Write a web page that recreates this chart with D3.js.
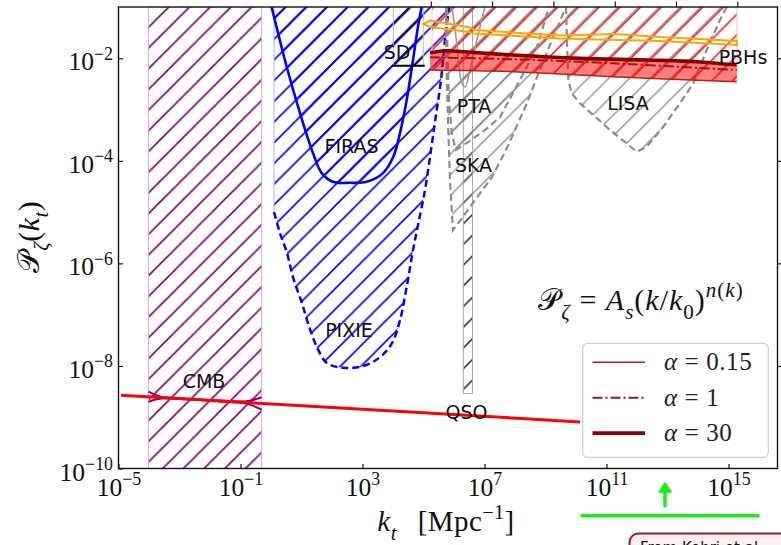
<!DOCTYPE html>
<html>
<head>
<meta charset="utf-8">
<script src="https://cdn.jsdelivr.net/npm/d3@7"></script>
<style>
  body { margin: 0; background: #fff; }
  svg { display: block; }
</style>
</head>
<body>
<svg id="chart" width="781" height="545"></svg>
<script>
// ---- Data (log10 k [Mpc^-1], log10 P_zeta) ----
const cmbLogK = [-4.02, -0.305];
const firasLog = [[0.02,-1.0],[0.515,-2.165],[0.951,-3.068],[1.377,-3.849],[1.662,-4.239],[2.033,-4.409],
  [2.59,-4.428],[3.138,-4.409],[3.672,-4.239],[4.01,-3.921],[4.23,-3.459],[4.449,-2.815],[4.656,-2.034],
  [4.82,-1.384],[4.941,-1.0]];
const pixieEdgeLog = [[0.1,-1.0],[0.1,-5.0]];
const pixieLog = [[0.1,-5.0],[0.295,-5.41],[0.525,-5.8],[0.721,-6.268],[1.016,-6.776],[1.213,-7.166],
  [1.508,-7.634],[1.836,-7.946],[2.361,-8.034],[3.016,-8.005],[3.574,-7.829],[3.967,-7.556],[4.23,-7.107],
  [4.459,-6.424],[4.656,-5.741],[4.82,-5.254],[5.049,-4.571],[5.246,-3.79],[5.41,-3.107],[5.574,-2.424],
  [5.705,-1.644],[5.836,-1.0]];
const sdLogK = [4.01, 4.993];
const sdLogP = [-2.146, -1.0];
const qsoLogK = [6.305, 6.607];
const qsoLogP = [-8.538, -1.0];
const skaLog = [[5.74,-1],[5.754,-2.034],[5.803,-3.205],[5.869,-4.376],[5.967,-5.351],[6.262,-5.117],
  [6.689,-4.766],[7.246,-4.317],[7.672,-3.829],[8.0,-3.4],[8.393,-2.873],[8.721,-2.366],[9.213,-1.644],[9.672,-1]];
const ptaLog = [[5.77,-1],[5.787,-2.034],[5.836,-2.815],[5.934,-3.498],[6.066,-3.79],[6.459,-3.634],
  [7.016,-3.4],[7.508,-3.146],[8.164,-2.424],[8.721,-1.78],[9.115,-1]];
const ptaNowLog = [[5.934,-1],[6.098,-1.741],[6.23,-2.424],[6.361,-2.561],[6.525,-2.229],[6.787,-1.546],[7.016,-1]];
const lisaLog = [[9.672,-1],[9.705,-1.644],[9.748,-2.424],[9.859,-2.684],[10.131,-2.879],[10.567,-3.107],
  [11.115,-3.4],[11.662,-3.66],[11.99,-3.823],[12.318,-3.726],[12.862,-3.336],[13.41,-2.879],[13.846,-2.489],
  [14.285,-1.839],[14.721,-1.254],[14.941,-1]];
const pbhHatchLog = [[5.279,-1],[15.279,-1],[15.279,-2.458],[11.223,-2.36],[7.944,-2.262],[5.279,-2.233]];
const orangeUpperLog = [[4.984,-1.332],[5.213,-1.263],[6.525,-1.4],[6.656,-1.449],[9.475,-1.556],
  [11.279,-1.527],[12.754,-1.585],[15.279,-1.663]];
const orangeLowerLog = [[15.279,-1.741],[12.754,-1.663],[9.475,-1.615],[6.656,-1.517],[6.525,-1.488],
  [5.213,-1.39],[4.984,-1.332]];
const alpha30Log = [[5.213,-1.892],[5.761,-1.853],[6.305,-1.872],[7.944,-1.937],[10.131,-2.001],
  [12.318,-2.034],[13.957,-2.067],[15.269,-2.132]];
const alpha1Log = [[5.213,-1.981],[7.944,-2.02],[11.223,-2.099],[15.269,-2.229]];
const alpha015Log = [[5.213,-2.229],[7.944,-2.262],[11.223,-2.36],[15.269,-2.458]];
const powerLawLog = [[-4.918,-8.571],[10.131,-9.092]];
const cmbUpperLog = [[-4.02,-8.50],[-3.6,-8.60],[-3.0,-8.63],[-1.5,-8.68],[-0.8,-8.69],[-0.305,-8.61]];
const cmbLowerLog = [[-4.02,-8.70],[-3.6,-8.635],[-3.0,-8.645],[-1.5,-8.70],[-0.8,-8.735],[-0.305,-8.85]];

const xTickExp = [-5, -1, 3, 7, 11, 15];
const yTickExp = [-10, -8, -6, -4, -2];
const yRightTickExp = [-8, -6, -4, -2];
const topTickLogK = [5.24, 7.25, 9.26, 11.27, 13.28, 15.29];

const regionLabels = [
  {t:"CMB", at:[-2.197,-8.298]}, {t:"FIRAS", at:[2.639,-3.702]}, {t:"PIXIE", at:[2.557,-7.302]},
  {t:"SD", at:[4.131,-1.868]}, {t:"PTA", at:[6.656,-2.922]}, {t:"SKA", at:[6.639,-4.073]},
  {t:"LISA", at:[11.705,-2.863]}, {t:"QSO", at:[6.41,-8.893]}, {t:"PBHs", at:[15.475,-1.976]}
];
const legendItems = [
  {label:"0.15", key:"a015"}, {label:"1", key:"a1"}, {label:"30", key:"a30"}
];

// ---- Layout ----
const svg = d3.select("#chart");
const L = 118.5, R = 777.5, T = 7, B = 468.5;
const x = d3.scaleLog().domain([1e-5, 10 ** 16.607]).range([L, R]);
const y = d3.scaleLog().domain([1e-10, 1e-1]).range([B, T]);
const px = d => [x(10 ** d[0]), y(10 ** d[1])];

const serif = "'Liberation Serif', 'DejaVu Serif', serif";
const sans = "'DejaVu Sans', sans-serif";

const lineStyles = {
  a015: {stroke:"#b22222", width:1.5, dash:null},
  a1:   {stroke:"#a01515", width:2, dash:"10,3,2,3"},
  a30:  {stroke:"#8b0000", width:3.6, dash:null}
};

// ---- Hatch patterns ----
const defs = svg.append("defs");
const H = 20.7;
function hatch(id, color, lw, phase) {
  const p = defs.append("pattern").attr("id", id).attr("patternUnits", "userSpaceOnUse")
    .attr("width", H).attr("height", H).attr("x", phase).attr("y", 0);
  p.append("path")
    .attr("d", `M0,${H}L${H},0M-2,2L2,-2M${H-2},${H+2}L${H+2},${H-2}`)
    .attr("stroke", color).attr("stroke-width", lw).attr("fill", "none");
}
hatch("hPurple", "#800080", 1.6, 10.2);
hatch("hBlue", "#0000ff", 1.6, 2.8);
hatch("hBlack", "#111", 1.4, 4);
hatch("hGray", "#8a8a8a", 1.3, 4);
hatch("hRed", "#ff0000", 1.4, 6);

defs.append("clipPath").attr("id", "plotClip")
  .append("rect").attr("x", L).attr("y", T).attr("width", R - L).attr("height", B - T);

const plot = svg.append("g").attr("clip-path", "url(#plotClip)");
const smooth = d3.line().x(d => px(d)[0]).y(d => px(d)[1]).curve(d3.curveCatmullRom.alpha(0.5));
const straight = d3.line().x(d => px(d)[0]).y(d => px(d)[1]);

// CMB band
const cx0 = x(10 ** cmbLogK[0]), cx1 = x(10 ** cmbLogK[1]);
plot.append("rect").attr("x", cx0).attr("y", T).attr("width", cx1 - cx0).attr("height", B - T)
  .attr("fill", "url(#hPurple)").attr("stroke", "#d9a6e6").attr("stroke-width", 1);

// PIXIE and FIRAS regions
plot.append("path").attr("d", straight([...pixieEdgeLog]) + smooth(pixieLog).replace(/^M/, "L") + "Z")
  .attr("fill", "url(#hBlue)");
plot.append("path").attr("d", smooth(firasLog) + "Z").attr("fill", "url(#hBlue)");

// SD box
const sx0 = x(10 ** sdLogK[0]), sx1 = x(10 ** sdLogK[1]);
const sy0 = y(10 ** sdLogP[1]), sy1 = y(10 ** sdLogP[0]);
plot.append("rect").attr("x", sx0).attr("y", sy0).attr("width", sx1 - sx0).attr("height", sy1 - sy0)
  .attr("fill", "url(#hBlack)").attr("stroke", "#bbb").attr("stroke-width", 1);

// QSO strip
const qx0 = x(10 ** qsoLogK[0]), qx1 = x(10 ** qsoLogK[1]);
const qy0 = y(10 ** qsoLogP[1]), qy1 = y(10 ** qsoLogP[0]);
plot.append("rect").attr("x", qx0).attr("y", qy0).attr("width", qx1 - qx0).attr("height", qy1 - qy0)
  .attr("fill", "url(#hBlack)").attr("stroke", "#aaa").attr("stroke-width", 1);

// GW sensitivity regions
[skaLog, ptaLog, lisaLog].forEach(r => {
  plot.append("path").attr("d", straight(r) + "Z").attr("fill", "url(#hGray)");
});

// PBH excluded region
plot.append("path").attr("d", straight(pbhHatchLog) + "Z").attr("fill", "url(#hRed)");
[pbhHatchLog[0][0], pbhHatchLog[1][0]].forEach(lk => {
  plot.append("line").attr("x1", x(10 ** lk)).attr("x2", x(10 ** lk)).attr("y1", T).attr("y2", y(10 ** -2.3))
    .attr("stroke", "#ffc0b0").attr("stroke-width", 1);
});

// Outlines
plot.append("path").attr("d", straight(pixieEdgeLog)).attr("fill", "none")
  .attr("stroke", "#aab4ff").attr("stroke-width", 1);
plot.append("path").attr("d", smooth(pixieLog)).attr("fill", "none")
  .attr("stroke", "#0000ff").attr("stroke-width", 2.5).attr("stroke-dasharray", "7,4");
plot.append("path").attr("d", smooth(firasLog)).attr("fill", "none")
  .attr("stroke", "#0000ff").attr("stroke-width", 2.6);
plot.append("line").attr("x1", sx0 - 1.5).attr("x2", sx1 + 1.5).attr("y1", sy1).attr("y2", sy1)
  .attr("stroke", "#000").attr("stroke-width", 2.2);
[skaLog, ptaLog, lisaLog].forEach(r => {
  plot.append("path").attr("d", straight(r)).attr("fill", "none")
    .attr("stroke", "#8c8c8c").attr("stroke-width", 2.2).attr("stroke-dasharray", "7,4");
});
plot.append("path").attr("d", smooth(ptaNowLog)).attr("fill", "none")
  .attr("stroke", "#999").attr("stroke-width", 1.6);

// PBH bounds (orange)
plot.append("path").attr("d", straight(orangeUpperLog.concat(orangeLowerLog)) + "Z").attr("fill", "none")
  .attr("stroke", "#ffa500").attr("stroke-width", 2);

// Running spectral index band
plot.append("path").attr("d", smooth(alpha30Log) + smooth(alpha015Log.slice().reverse()).replace(/^M/, "L") + "Z")
  .attr("fill", "#ff0000").attr("fill-opacity", 0.5);
const bandLines = {a015: alpha015Log, a1: alpha1Log, a30: alpha30Log};
["a015", "a1", "a30"].forEach(k => {
  const s = lineStyles[k];
  plot.append("path").attr("d", smooth(bandLines[k])).attr("fill", "none")
    .attr("stroke", s.stroke).attr("stroke-width", s.width).attr("stroke-dasharray", s.dash);
});

// CMB measurement and the power-law spectrum
plot.append("path").attr("d", smooth(cmbUpperLog)).attr("fill", "none").attr("stroke", "#800080").attr("stroke-width", 2);
plot.append("path").attr("d", smooth(cmbLowerLog)).attr("fill", "none").attr("stroke", "#800080").attr("stroke-width", 2);
plot.append("path").attr("d", straight(powerLawLog)).attr("fill", "none")
  .attr("stroke", "#ff0000").attr("stroke-width", 3);

// Region labels
plot.selectAll("text.region").data(regionLabels).join("text").attr("class", "region")
  .attr("x", d => px(d.at)[0]).attr("y", d => px(d.at)[1] + 7)
  .attr("text-anchor", "middle").attr("font-family", sans).attr("font-size", 19).attr("fill", "#111")
  .text(d => d.t);

// ---- Rich text helper ----
function rich(sel, parts, size) {
  let cur = 0;
  parts.forEach(p => {
    const shift = p.sub ? size * 0.3 : p.sup ? -size * 0.42 : 0;
    const ts = sel.append("tspan").text(p.t)
      .attr("dy", (shift - cur).toFixed(2))
      .attr("font-size", (p.sub || p.sup) ? size * 0.7 : size)
      .attr("font-style", p.i ? "italic" : "normal");
    if (p.f) ts.attr("font-family", p.f);
    cur = shift;
  });
}
const P_SCRIPT = "\u{1D4AB}";

// ---- Legend ----
const lg = svg.append("g");
lg.append("rect").attr("x", 582.7).attr("y", 343.3).attr("width", 185.6).attr("height", 114).attr("rx", 5)
  .attr("fill", "#fff").attr("fill-opacity", 0.85).attr("stroke", "#cfcfcf").attr("stroke-width", 1.2);
legendItems.forEach((it, i) => {
  const yy = 362.3 + i * 35.4;
  const s = lineStyles[it.key];
  lg.append("line").attr("x1", 592.5).attr("x2", 645).attr("y1", yy).attr("y2", yy)
    .attr("stroke", s.stroke).attr("stroke-width", s.width).attr("stroke-dasharray", s.dash);
  const t = lg.append("text").attr("x", 664).attr("y", yy + 8).attr("font-family", serif).attr("fill", "#222")
    .attr("letter-spacing", 0.6);
  rich(t, [{t:"\u03B1", i:true}, {t:" = " + it.label}], 25);
});

// ---- Axes ----
const sup = e => ["10", (e < 0 ? "\u2212" : "") + Math.abs(e)];
const gx = svg.append("g").attr("transform", `translate(0,${B})`)
  .call(d3.axisBottom(x).tickValues(xTickExp.map(e => 10 ** e)).tickSize(-4.5).tickSizeOuter(0).tickFormat(""));
gx.select(".domain").remove();
gx.selectAll(".tick line").attr("stroke-width", 1.1);
gx.selectAll(".tick").each(function(d, i) {
  const s = sup(xTickExp[i]);
  const t = d3.select(this).append("text").attr("x", 0).attr("y", 27).attr("text-anchor", "middle")
    .attr("font-family", serif).attr("fill", "#111");
  rich(t, [{t:s[0]}, {t:s[1], sup:true}], 25.5);
});

const gy = svg.append("g").attr("transform", `translate(${L},0)`)
  .call(d3.axisLeft(y).tickValues(yTickExp.map(e => 10 ** e)).tickSize(-4.5).tickSizeOuter(0).tickFormat(""));
gy.select(".domain").remove();
gy.selectAll(".tick line").attr("stroke-width", 1.1);
gy.selectAll(".tick").each(function(d, i) {
  const s = sup(yTickExp[i]);
  const t = d3.select(this).append("text").attr("x", -5.5).attr("y", 11.5).attr("text-anchor", "end")
    .attr("font-family", serif).attr("fill", "#111");
  rich(t, [{t:s[0]}, {t:s[1], sup:true}], 25.5);
});

const gt = svg.append("g").attr("transform", `translate(0,${T})`)
  .call(d3.axisTop(x).tickValues(topTickLogK.map(v => 10 ** v)).tickSize(5.5).tickSizeOuter(0).tickFormat(""));
gt.select(".domain").remove();
gt.selectAll(".tick line").attr("stroke-width", 1.1);

const gr = svg.append("g").attr("transform", `translate(${R},0)`)
  .call(d3.axisRight(y).tickValues(yRightTickExp.map(e => 10 ** e)).tickSize(5).tickSizeOuter(0).tickFormat(""));
gr.select(".domain").remove();
gr.selectAll(".tick line").attr("stroke-width", 1.1);

// Spines
svg.append("rect").attr("x", L).attr("y", T).attr("width", R - L).attr("height", B - T)
  .attr("fill", "none").attr("stroke", "#111").attr("stroke-width", 1.4);

// Axis titles
const xt = svg.append("text").attr("x", 446).attr("y", 531).attr("text-anchor", "middle")
  .attr("font-family", serif).attr("fill", "#111").attr("letter-spacing", 0.4);
rich(xt, [{t:"k", i:true}, {t:"t", i:true, sub:true}, {t:"\u2002\u2009[Mpc"}, {t:"\u22121", sup:true}, {t:"]"}], 29);

const yt = svg.append("text").attr("transform", "translate(39,237) rotate(-90)").attr("text-anchor", "middle")
  .attr("font-family", serif).attr("fill", "#111").attr("letter-spacing", 0.5);
rich(yt, [{t:P_SCRIPT, f:"'DejaVu Sans', 'DejaVu Serif', serif"}, {t:"\u03B6", i:true, sub:true}, {t:"("}, {t:"k", i:true},
  {t:"t", i:true, sub:true}, {t:")"}], 30);

// Spectrum formula
const eq = svg.append("text").attr("x", 641).attr("y", 310).attr("text-anchor", "middle")
  .attr("font-family", serif).attr("fill", "#111").attr("letter-spacing", 1);
rich(eq, [{t:P_SCRIPT, f:"'DejaVu Sans', 'DejaVu Serif', serif"}, {t:"\u03B6", i:true, sub:true}, {t:" = "},
  {t:"A", i:true}, {t:"s", i:true, sub:true}, {t:"("}, {t:"k", i:true}, {t:"/"}, {t:"k", i:true},
  {t:"0", sub:true}, {t:")"}, {t:"n", i:true, sup:true}, {t:"(", sup:true}, {t:"k", i:true, sup:true}, {t:")", sup:true}], 30);

// ---- Marker below the axis ----
const green = "#14f014";
svg.append("line").attr("x1", 582).attr("x2", 758).attr("y1", 515.7).attr("y2", 515.7)
  .attr("stroke", green).attr("stroke-width", 3.5).attr("stroke-linecap", "round");
svg.append("line").attr("x1", 665).attr("x2", 665).attr("y1", 506).attr("y2", 490)
  .attr("stroke", green).attr("stroke-width", 3.5).attr("stroke-linecap", "round");
svg.append("path").attr("d", "M665,483 L671,492 L659,492 Z").attr("fill", green).attr("stroke", green)
  .attr("stroke-width", 1.5).attr("stroke-linejoin", "round");

// Note box
svg.append("rect").attr("x", 629.5).attr("y", 533.5).attr("width", 220).attr("height", 60).attr("rx", 9)
  .attr("fill", "#fbeff0").attr("stroke", "#a8151f").attr("stroke-width", 2);
svg.append("text").attr("x", 640).attr("y", 553).attr("font-family", sans).attr("font-size", 15)
  .attr("fill", "#111").text("From Kohri et al.");
</script>
</body>
</html>
